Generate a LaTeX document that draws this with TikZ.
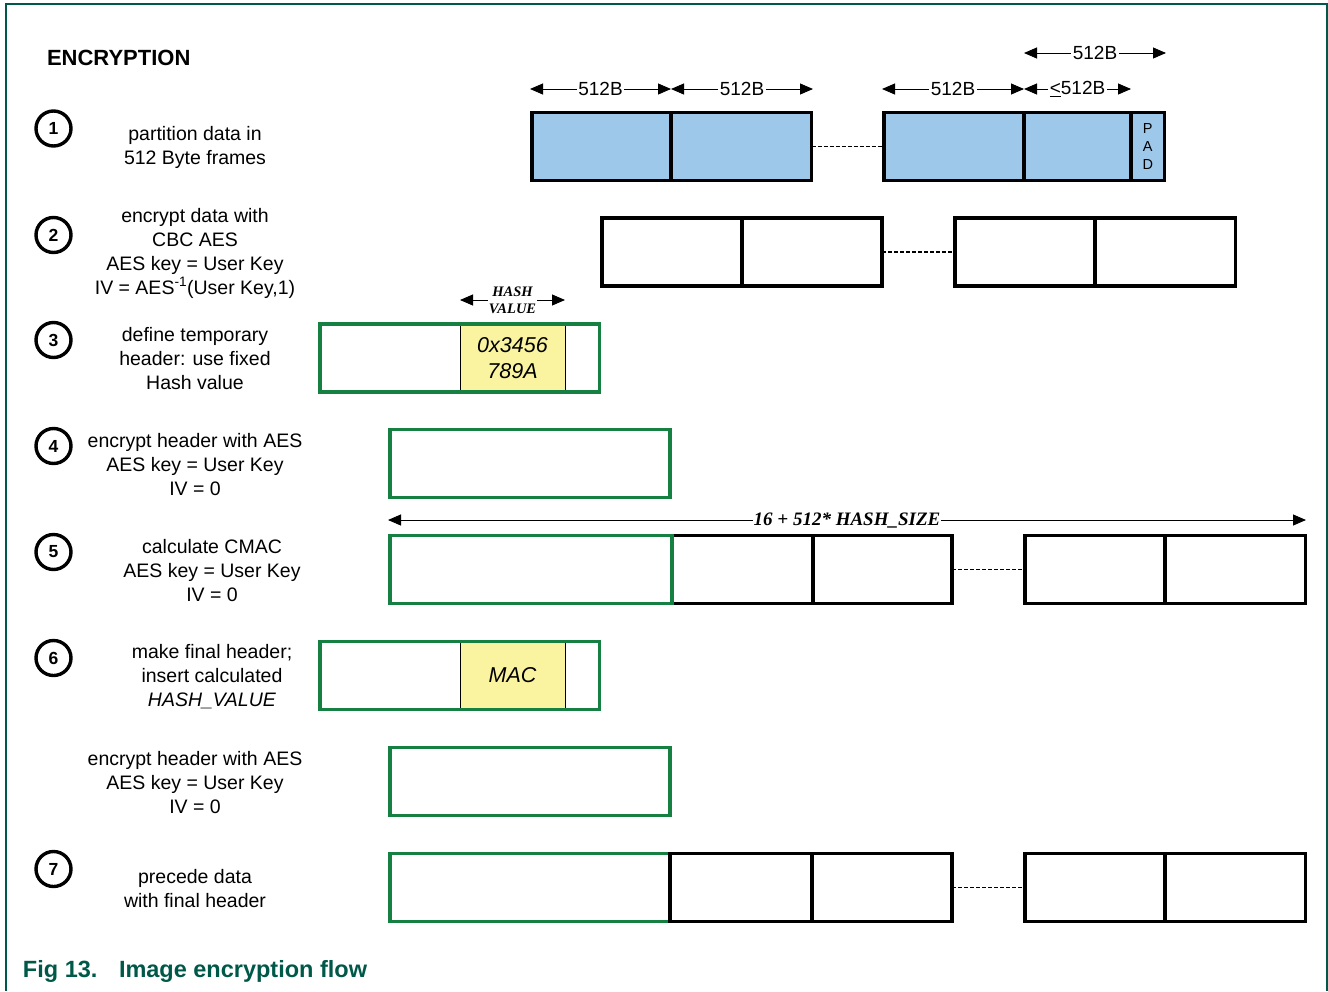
\documentclass[tikz,border=0pt]{standalone}
\usepackage{fontspec}
\setmainfont{Liberation Sans}
\newfontfamily\serifx{Liberation Serif}
\usetikzlibrary{arrows.meta,calc}
\definecolor{boxgreen}{RGB}{22,128,66}
\definecolor{framegreen}{RGB}{0,88,72}
\definecolor{lblue}{RGB}{158,200,234}
\definecolor{lyellow}{RGB}{250,244,160}
\newcommand\bx[5]{\node[#2,minimum width={(#4)-(#3)}] (#1) at ({((#3)+(#4))/2},#5) {};}
\begin{document}
\begin{tikzpicture}[x=1pt,y=-1pt,
 every node/.style={inner sep=0pt,outer sep=0pt},
 num/.style={circle,draw,line width=3.4pt,minimum size=35pt,font=\fontsize{17.5}{17.5}\selectfont\bfseries},
 desc/.style={align=center,font=\fontsize{19.5}{24}\selectfont},
 blk/.style={draw,line width=3.8pt,minimum height=68pt},
 bluebox/.style={blk,fill=lblue},
 grn/.style={draw=boxgreen,line width=3.8pt,minimum height=68pt},
 yel/.style={draw=black,line width=0.8pt,fill=lyellow,minimum height=68pt},
 dimarr/.style={{Triangle[length=13pt,width=11pt]}-{Triangle[length=13pt,width=11pt]},line width=0.9pt},
 dimlab/.style={fill=white,inner sep=1.5pt,font=\fontsize{19}{19}\selectfont},
 dots/.style={dash pattern=on 4pt off 2pt,line width=1.2pt},
]
\useasboundingbox (0,0) rectangle (1328,991);
% frame
\draw[framegreen,line width=2pt] (6,991) -- (6,4) -- (1327,4) -- (1327,991);

\node[anchor=west,font=\fontsize{22}{22}\selectfont\bfseries] (title) at (47,57.5) {ENCRYPTION};

% step numbers
\node[num] (n1) at (53.5,128.5) {1};
\node[num] (n2) at (53.5,235) {2};
\node[num] (n3) at (53.5,340) {3};
\node[num] (n4) at (53.5,446) {4};
\node[num] (n5) at (53.5,552) {5};
\node[num] (n6) at (53.5,658) {6};
\node[num] (n7) at (53.5,869) {7};

% descriptions
\node[desc] (t1) at (195,147) {partition data in\\512 Byte frames};
\node[desc] (t2) at (195,253) {encrypt data with\\CBC AES\\AES key = User Key\\IV = AES\textsuperscript{-1}(User Key,1)};
\node[desc] (t3) at (195,359) {define temporary\\header: use fixed\\Hash value};
\node[desc] (t4) at (195,465) {encrypt header with AES\\AES key = User Key\\IV = 0};
\node[desc] (t5) at (212,571) {calculate CMAC\\AES key = User Key\\IV = 0};
\node[desc] (t6) at (212,677) {make final header;\\insert calculated\\\textit{HASH\_VALUE}};
\node[desc] (tu) at (195,783) {encrypt header with AES\\AES key = User Key\\IV = 0};
\node[desc] (t7) at (195,889) {precede data\\with final header};

% row 1
\bx{r1a}{bluebox}{532}{671}{146.5}
\bx{r1b}{bluebox}{671}{811.5}{146.5}
\bx{r1c}{bluebox}{884}{1024}{146.5}
\bx{r1d}{bluebox}{1024}{1131}{146.5}
\bx{r1p}{bluebox}{1131}{1164.5}{146.5}
\node[align=center,font=\fontsize{14.5}{18}\selectfont] (pad) at (r1p.center) {P\\A\\D};
\draw[dots] (r1b.east) -- (r1c.west);
\coordinate (d0) at (530,89);
\coordinate (d1) at (671,89);
\coordinate (d2) at (813,89);
\coordinate (d3) at (882,89);
\coordinate (d4) at (1024,89);
\coordinate (d5) at (1131,89);
\coordinate (u1) at (1024,53);
\coordinate (u2) at (1166,53);
\draw[dimarr] (d0) -- node[dimlab] (l1) {512B} (d1);
\draw[dimarr] (d1) -- node[dimlab] (l2) {512B} (d2);
\draw[dimarr] (d3) -- node[dimlab] (l3) {512B} (d4);
\draw[dimarr] (d4) -- node[dimlab] (l4) {\underline{<}512B} (d5);
\draw[dimarr] (u1) -- node[dimlab] (l5) {512B} (u2);

% row 2
\bx{r2a}{blk}{602}{742}{252}
\bx{r2b}{blk}{742}{882}{252}
\bx{r2c}{blk}{955}{1095}{252}
\bx{r2d}{blk}{1095}{1235.5}{252}
\draw[dots] (r2b.east) -- (r2c.west);

% row 3
\bx{y3}{yel}{460}{565}{358}
\node[align=center,font=\fontsize{21.5}{26}\selectfont\itshape] (y3t) at (y3.center) {0x3456\\789A};
\bx{g3}{grn}{320}{599.5}{358}
\coordinate (h1) at (460,300);
\coordinate (h2) at (565,300);
\draw[dimarr] (h1) -- node[fill=white,inner sep=1pt,align=center,font=\serifx\fontsize{14.5}{17}\selectfont\bfseries\itshape] (hl) {HASH\\VALUE} (h2);

% row 4
\bx{g4}{grn}{390}{670}{463.5}

% row 5
\bx{r5a}{blk}{672}{813}{569.5}
\bx{r5b}{blk}{813}{952}{569.5}
\bx{r5c}{blk}{1025}{1165}{569.5}
\bx{r5d}{blk}{1165}{1305.5}{569.5}
\bx{g5}{grn}{390}{672}{569.5}
\draw[dots] (r5b.east) -- (r5c.west);
\coordinate (s1) at (388,520);
\coordinate (s2) at (1306,520);
\draw[dimarr] (s1) -- node[fill=white,inner sep=1pt,font=\serifx\fontsize{19}{19}\selectfont\bfseries\itshape] (sl) {16 + 512* HASH\_SIZE} (s2);

% row 6
\bx{y6}{yel}{460}{565}{675.5}
\node[font=\fontsize{21.5}{26}\selectfont\itshape] (y6t) at (y6.center) {MAC};
\bx{g6}{grn}{320}{599.5}{675.5}

% row unnumbered
\bx{gu}{grn}{390}{670}{781.5}

% row 7
\bx{g7}{grn}{390}{670}{887.5}
\bx{r7a}{blk}{670}{812}{887.5}
\bx{r7b}{blk}{812}{952}{887.5}
\bx{r7c}{blk}{1025}{1165}{887.5}
\bx{r7d}{blk}{1165}{1305.5}{887.5}
\draw[dots] (r7b.east) -- (r7c.west);

% caption
\node[anchor=west,text=framegreen,font=\fontsize{23.5}{23.5}\selectfont\bfseries] (cap1) at (23,971) {Fig 13.};
\node[anchor=west,text=framegreen,font=\fontsize{23.5}{23.5}\selectfont\bfseries] (cap2) at (119,971) {Image encryption flow};
\end{tikzpicture}
\end{document}
